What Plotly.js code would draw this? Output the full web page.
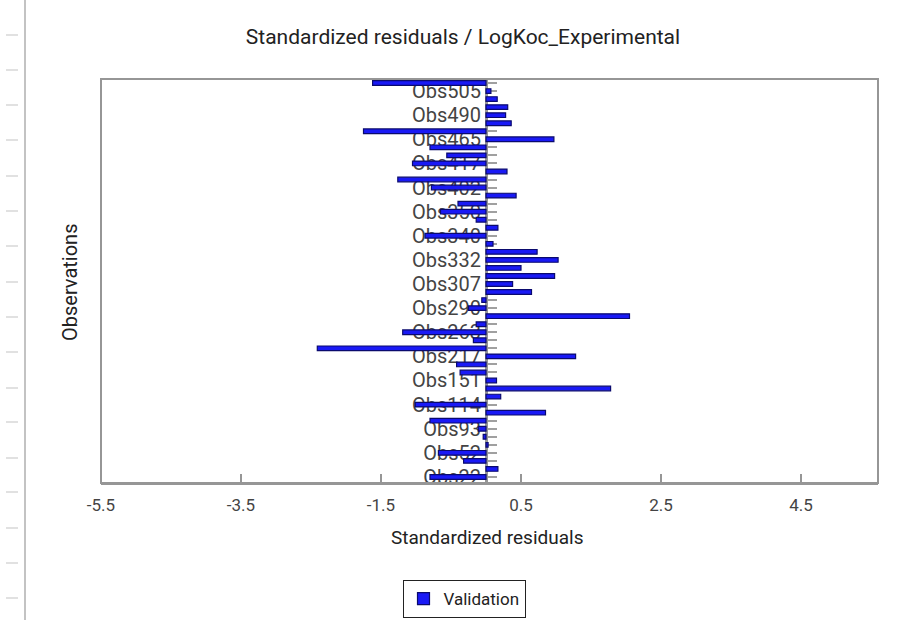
<!DOCTYPE html>
<html>
<head>
<meta charset="utf-8">
<script src="https://cdn.plot.ly/plotly-3.0.1.min.js"></script>
<style>html,body{margin:0;padding:0;background:#fff;}#chart{width:904px;height:620px;}</style>
</head>
<body>
<div id="chart"></div>
<script>
// Observations, bottom to top
const categories = [
  "Obs22","Obs30","Obs41","Obs52","Obs64","Obs79","Obs93","Obs101","Obs108","Obs114",
  "Obs126","Obs139","Obs151","Obs170","Obs196","Obs217","Obs232","Obs249","Obs263","Obs272",
  "Obs281","Obs290","Obs296","Obs302","Obs307","Obs316","Obs324","Obs332","Obs335","Obs338",
  "Obs340","Obs343","Obs347","Obs350","Obs368","Obs385","Obs402","Obs407","Obs412","Obs417",
  "Obs433","Obs449","Obs465","Obs474","Obs482","Obs490","Obs495","Obs500","Obs505","Obs512"
];
// Standardized residuals (Validation)
const residuals = [
  -0.80, 0.17, -0.32, -0.68, 0.03, -0.04, -0.11, -0.80, 0.85, -1.01,
  0.21, 1.78, 0.15, -0.37, -0.42, 1.28, -2.41, -0.18, -1.19, -0.14,
  2.05, -0.25, -0.06, 0.65, 0.38, 0.98, 0.50, 1.03, 0.73, 0.10,
  -0.87, 0.17, -0.14, -0.65, -0.40, 0.43, -0.78, -1.26, 0.30, -1.05,
  -0.56, -0.80, 0.97, -1.75, 0.36, 0.28, 0.31, 0.16, 0.07, -1.62
];
const xTickVals = [-5.5, -3.5, -1.5, 0.5, 2.5, 4.5];
const xTickText = ["-5.5", "-3.5", "-1.5", "0.5", "2.5", "4.5"];
const labelEvery = 3;

const xRange = [-5.5, 5.6];
const yRange = [-0.75, categories.length - 0.5];
const zeroPos = (0 - xRange[0]) / (xRange[1] - xRange[0]);

// pixel helpers for decoration (plot area: l=101, t=79, w=777, h=404)
const L = 101, T = 79, W = 777, H = 404;
const px = x => (x - L) / W;
const py = y => (T + H - y) / H;

const shapes = [
  {type: 'rect', xref: 'paper', yref: 'paper', x0: 0, x1: 1, y0: 0, y1: 1,
   line: {color: 'rgb(150,150,150)', width: 2}, layer: 'above'},
  {type: 'line', xref: 'paper', yref: 'paper', x0: px(25), x1: px(25), y0: py(0), y1: py(620),
   line: {color: 'rgb(175,175,175)', width: 1.5}}
];
const sideMarks = [35, 70, 105, 140, 176, 211, 246, 282, 317, 352, 388, 422, 458, 492, 528, 563, 598];
sideMarks.forEach(y => shapes.push({type: 'line', xref: 'paper', yref: 'paper',
  x0: px(6), x1: px(18), y0: py(y), y1: py(y), line: {color: 'rgb(215,215,215)', width: 1.5}}));

const trace = {
  type: 'bar',
  orientation: 'h',
  name: 'Validation',
  x: residuals,
  y: categories,
  width: 0.58,
  marker: {color: 'rgb(25,25,245)', line: {color: 'rgb(10,10,110)', width: 1.2}},
  showlegend: true
};

const layout = {
  width: 904, height: 620,
  margin: {l: L, r: 904 - L - W, t: T, b: 620 - T - H},
  paper_bgcolor: '#fff', plot_bgcolor: '#fff',
  font: {family: 'Roboto, "Open Sans", sans-serif', color: '#333'},
  title: {text: 'Standardized residuals / LogKoc_Experimental', x: 463 / 904, xanchor: 'center',
          y: 1 - 37 / 620, yanchor: 'middle', font: {size: 21, color: '#222'}},
  xaxis: {
    range: xRange, tickvals: xTickVals, ticktext: xTickText,
    showgrid: false, zeroline: false, showline: true, linecolor: 'rgb(150,150,150)', linewidth: 2,
    ticks: 'inside', ticklen: 9, tickwidth: 1.5, tickcolor: 'rgb(150,150,150)',
    ticklabelstandoff: 6,
    tickfont: {size: 17, color: '#444'}
  },
  yaxis: {
    type: 'category', categoryorder: 'array', categoryarray: categories,
    range: yRange, anchor: 'free', position: zeroPos,
    tickvals: categories,
    ticktext: categories.map((c, i) => (i % labelEvery === 0 ? c : '')),
    showgrid: false, zeroline: false, showline: true, linecolor: 'rgb(150,150,150)', linewidth: 3,
    ticks: 'inside', ticklen: 9, tickwidth: 2, tickcolor: 'rgb(160,160,160)',
    tickfont: {size: 20, color: '#444'},
    layer: 'below traces'
  },
  annotations: [
    {text: 'Observations', xref: 'paper', yref: 'paper', x: px(70), y: py(283),
     xanchor: 'center', yanchor: 'middle', textangle: -90, showarrow: false,
     font: {size: 20, color: '#222'}},
    {text: 'Standardized residuals', xref: 'paper', yref: 'paper', x: px(487), y: py(537),
     xanchor: 'center', yanchor: 'middle', showarrow: false,
     font: {size: 19, color: '#222'}}
  ],
  legend: {
    xref: 'container', yref: 'container',
    x: 464 / 904, y: 1 - 580 / 620, xanchor: 'center', yanchor: 'top', orientation: 'h',
    bordercolor: '#222', borderwidth: 1, bgcolor: '#fff', font: {size: 17, color: '#222'}
  },
  shapes: shapes
};

Plotly.newPlot('chart', [trace], layout, {displayModeBar: false, staticPlot: true});
</script>
</body>
</html>
